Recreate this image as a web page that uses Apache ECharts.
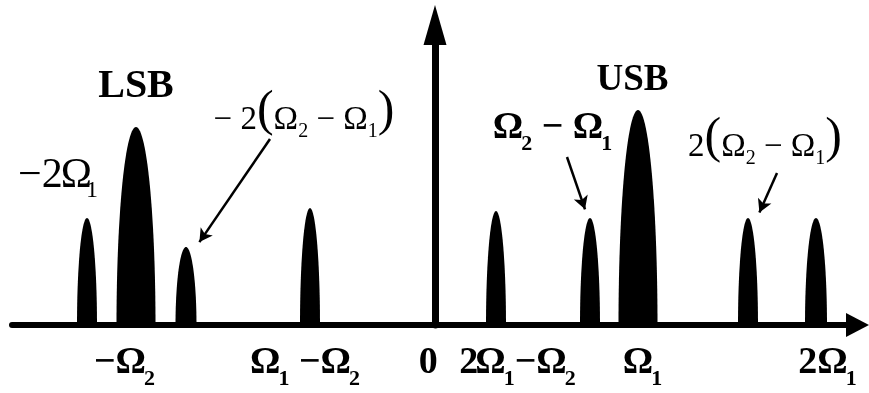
<!DOCTYPE html>
<html>
<head>
<meta charset="utf-8">
<script src="https://cdn.jsdelivr.net/npm/echarts@6/dist/echarts.min.js"></script>
<style>
  html, body { margin: 0; padding: 0; background: #fff; }
  #chart { width: 869px; height: 393px; }
</style>
</head>
<body>
<div id="chart"></div>
<script>
// Spectral lines: centre frequency, amplitude and half line-width (arbitrary units)
const peakFreq      = [-348, -299, -249, -125, 61, 155, 203, 313, 381];
const peakAmp       = [107, 198, 78, 117, 114, 107, 215, 107, 107];
const peakHalfWidth = [10, 19.5, 10.5, 10, 10, 10, 19.5, 10, 11];

// Frequency labels under the axis
const tickText = [
  '{m|−Ω}{s|2}',
  '{m|Ω}{s|1}{m| −Ω}{s|2}',
  '{m|0}{s| }',
  '{m|2}{mo|Ω}{s|1}{m|−Ω}{s|2}',
  '{m|Ω}{s|1}',
  '{m|2Ω}{s|1}'
];
const tickFreq = [-310.5, -130, -5, 82.5, 207.5, 392.5];

// Sideband names and component annotations
const noteText = [
  '{h|LSB}',
  '{hu|USB}',
  '{g|−2}{go|Ω}{gs|1}',
  '{r|− 2}{p|(}{r|Ω}{rs|2}{r| − Ω}{rs|1}{p|)}',
  '{m|Ω}{s|2}{m| − Ω}{s|1}',
  '{r|2}{p|(}{r|Ω}{rs|2}{r| − Ω}{rs|1}{p|)}'
];
const noteFreq  = [-299, 197.5, -377, -131, 117.5, 330];
const noteLevel = [238, 245, 149, 213.4, 197, 186.4];

// Pointer arrows from annotations to their spectral lines
const arrowFrom = [[-165, 186], [132, 168], [342, 152]];
const arrowTo   = [[-235.6, 82.9], [150, 115.7], [324.4, 112.5]];

const SERIF = "'Liberation Serif', 'Times New Roman', serif";
const st = (o) => Object.assign({ fontFamily: SERIF, fill: '#000', verticalAlign: 'top' }, o);

// Rich-text styles: every token is top-aligned in its line and shifted down with
// top padding, which is how the subscripts are lowered below the baseline.
const rich = {
  m:  st({ fontSize: 38, fontWeight: 'bold', lineHeight: 38 }),
  mo: st({ fontSize: 38, fontWeight: 'bold', lineHeight: 38, padding: [0, 0, 0, -3] }),
  s:  st({ fontSize: 22, fontWeight: 'bold', lineHeight: 22, padding: [24, 0, 0, -2] }),
  h:  st({ fontSize: 40, fontWeight: 'bold', lineHeight: 40 }),
  hu: st({ fontSize: 37, fontWeight: 'bold', lineHeight: 37 }),
  r:  st({ fontSize: 33, lineHeight: 33, padding: [17.6, 0, 0, 0] }),
  p:  st({ fontSize: 50, lineHeight: 50 }),
  rs: st({ fontSize: 20, lineHeight: 20, padding: [35.5, 0, 0, 0] }),
  g:  st({ fontSize: 42, lineHeight: 42 }),
  go: st({ fontSize: 42, lineHeight: 42, padding: [0, 0, 0, -2] }),
  gs: st({ fontSize: 24, lineHeight: 24, padding: [24, 0, 0, -6] })
};

const TICK_LEVEL = -38;

function textItem(texts) {
  return function (params, api) {
    const p = api.coord([api.value(0), api.value(1)]);
    return {
      type: 'text',
      x: p[0],
      y: p[1],
      style: {
        text: texts[params.dataIndex],
        rich: rich,
        align: 'center',
        verticalAlign: 'middle',
        fill: '#000',
        fontFamily: SERIF,
        fontSize: 32
      }
    };
  };
}

const chart = echarts.init(document.getElementById('chart'), null, { renderer: 'canvas' });

chart.setOption({
  animation: false,
  backgroundColor: '#fff',
  grid: { left: 12, right: 11.5, top: 25, bottom: 68 },
  xAxis: {
    type: 'value',
    min: -423,
    max: 422.5,
    axisLine: {
      show: true,
      onZero: true,
      symbol: ['none', 'triangle'],
      symbolSize: [24, 23],
      lineStyle: { color: '#000', width: 6 }
    },
    axisTick: { show: false },
    axisLabel: { show: false },
    splitLine: { show: false }
  },
  yAxis: {
    type: 'value',
    min: 0,
    max: 300,
    axisLine: {
      show: true,
      onZero: true,
      symbol: ['none', 'triangle'],
      symbolSize: [23, 40],
      lineStyle: { color: '#000', width: 7 }
    },
    axisTick: { show: false },
    axisLabel: { show: false },
    splitLine: { show: false }
  },
  series: [
    {
      // spectral lines as filled bell shapes
      type: 'custom',
      silent: true,
      clip: false,
      encode: { x: 0, y: 1 },
      data: peakFreq.map((f, i) => [f, peakAmp[i], peakHalfWidth[i]]),
      renderItem: function (params, api) {
        const c = api.value(0), h = api.value(1), w = api.value(2);
        const pts = [];
        const n = 60;
        for (let k = 0; k <= n; k++) {
          const t = Math.PI * k / n;
          pts.push(api.coord([c + w * Math.cos(t), h * Math.sin(t)]));
        }
        return { type: 'polygon', shape: { points: pts }, style: { fill: '#000' } };
      }
    },
    {
      // frequency labels
      type: 'custom',
      silent: true,
      clip: false,
      encode: { x: 0, y: 1 },
      data: tickFreq.map((f) => [f, TICK_LEVEL]),
      renderItem: textItem(tickText)
    },
    {
      // sideband names and annotations
      type: 'custom',
      silent: true,
      clip: false,
      encode: { x: 0, y: 1 },
      data: noteFreq.map((f, i) => [f, noteLevel[i]]),
      renderItem: textItem(noteText)
    },
    {
      // pointer arrows
      type: 'line',
      data: [],
      silent: true,
      markLine: {
        silent: true,
        animation: false,
        symbol: ['none', 'arrow'],
        symbolSize: [11, 13],
        label: { show: false },
        emphasis: { disabled: true },
        lineStyle: { color: '#000', width: 2.5, type: 'solid' },
        data: arrowFrom.map((a, i) => [{ coord: a }, { coord: arrowTo[i] }])
      }
    }
  ]
});
</script>
</body>
</html>
